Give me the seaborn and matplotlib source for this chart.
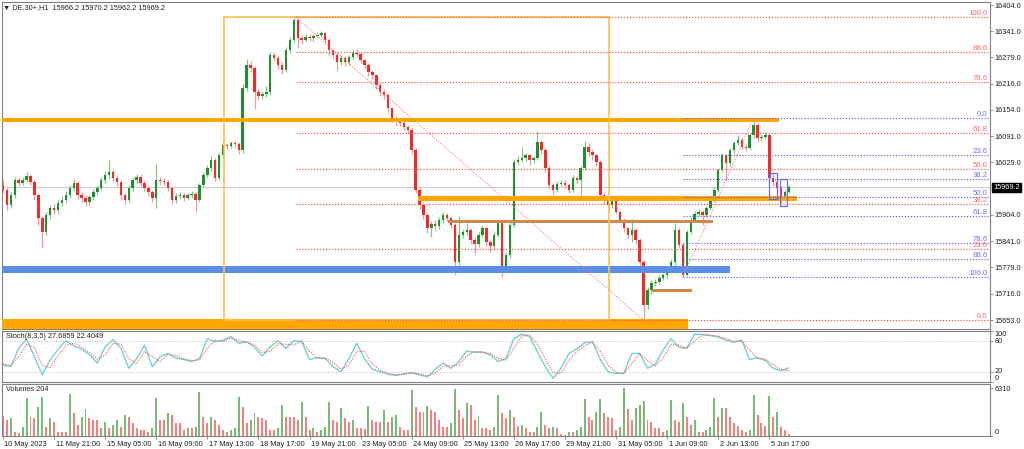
import matplotlib
matplotlib.use('Agg')
import numpy as np
import pandas as pd
import matplotlib.pyplot as plt
import matplotlib.transforms as mtransforms
from matplotlib.patches import Rectangle
import seaborn as sns

# ---- price data (H1 candles) ----
first_open = 15975
closes = [15963, 15927, 15951, 15987, 15980, 15987, 15996, 15982, 15951, 15896,
          15863, 15903, 15920, 15915, 15932, 15939, 15951, 15968, 15980, 15951,
          15944, 15934, 15946, 15958, 15968, 15987, 15999, 16006, 15992, 15982,
          15951, 15939, 15968, 15987, 15994, 15980, 15968, 15958, 15944, 15987,
          15985, 15982, 15968, 15939, 15949, 15951, 15944, 15951, 15954, 15939,
          15975, 15999, 16015, 16035, 15992, 16046, 16070, 16068, 16075, 16073,
          16058, 16206, 16261, 16254, 16197, 16187, 16192, 16197, 16285, 16278,
          16261, 16249, 16297, 16321, 16368, 16325, 16321, 16328, 16325, 16330,
          16333, 16337, 16321, 16297, 16285, 16268, 16278, 16268, 16280, 16290,
          16288, 16273, 16261, 16244, 16237, 16213, 16197, 16190, 16159, 16135,
          16125, 16123, 16113, 16106, 16058, 15963, 15927, 15903, 15872, 15882,
          15877, 15892, 15903, 15896, 15880, 15791, 15856, 15863, 15868, 15844,
          15834, 15856, 15872, 15839, 15829, 15856, 15887, 15777, 15808, 15880,
          16030, 16035, 16039, 16046, 16035, 16039, 16077, 16058, 16015, 15975,
          15963, 15977, 15980, 15975, 15963, 15992, 15987, 16015, 16066, 16054,
          16046, 16030, 15951, 15939, 15927, 15939, 15911, 15892, 15872, 15856,
          15868, 15844, 15791, 15689, 15725, 15741, 15744, 15753, 15760, 15772,
          15791, 15868, 15832, 15760, 15863, 15892, 15906, 15911, 15903, 15920,
          15939, 15963, 16011, 16046, 16027, 16058, 16075, 16082, 16066, 16063,
          16094, 16118, 16087, 16089, 16094, 15992, 15982, 15968, 15944, 15958,
          15969.2]
highs = [15990, 15968, 15958, 15995, 15993, 15995, 16005, 16000, 15988, 15955,
         15900, 15910, 15928, 15930, 15940, 15948, 15960, 15975, 15990, 15985,
         15958, 15950, 15952, 15965, 15975, 15995, 16008, 16035, 16012, 15998,
         15988, 15955, 15975, 15995, 16002, 16000, 15986, 15972, 15962, 16025,
         15995, 15992, 15988, 15972, 15955, 15958, 15956, 15957, 15960, 15958,
         15980, 16005, 16022, 16045, 16040, 16052, 16078, 16076, 16080, 16080,
         16078, 16215, 16275, 16270, 16258, 16205, 16200, 16210, 16292, 16292,
         16283, 16268, 16303, 16328, 16375, 16372, 16332, 16335, 16334, 16336,
         16340, 16342, 16340, 16325, 16300, 16290, 16285, 16282, 16286, 16298,
         16300, 16292, 16276, 16265, 16250, 16240, 16218, 16203, 16195, 16162,
         16140, 16132, 16128, 16118, 16110, 16062, 15970, 15932, 15908, 15890,
         15892, 15898, 15910, 15908, 15900, 15885, 15900, 15870, 15885, 15872,
         15850, 15862, 15880, 15876, 15845, 15862, 15892, 15890, 15815, 15886,
         16036, 16045, 16066, 16052, 16050, 16045, 16104, 16082, 16062, 16020,
         15980, 15984, 15986, 15986, 15980, 15998, 15996, 16020, 16080, 16075,
         16060, 16050, 16034, 15955, 15944, 15946, 15942, 15915, 15896, 15876,
         15895, 15872, 15848, 15795, 15732, 15748, 15752, 15760, 15766, 15778,
         15798, 15885, 15872, 15836, 15868, 15898, 15912, 15918, 15916, 15926,
         15945, 15970, 16016, 16052, 16050, 16064, 16080, 16095, 16086, 16072,
         16100, 16135, 16122, 16096, 16102, 16096, 16004, 15990, 15972, 15964,
         15975]
lows = [15955, 15915, 15920, 15945, 15972, 15975, 15982, 15975, 15940, 15880,
        15825, 15855, 15895, 15905, 15908, 15925, 15932, 15945, 15960, 15942,
        15935, 15925, 15928, 15940, 15950, 15962, 15980, 15990, 15985, 15972,
        15940, 15930, 15935, 15960, 15980, 15972, 15960, 15950, 15935, 15920,
        15975, 15974, 15960, 15930, 15932, 15942, 15936, 15940, 15945, 15910,
        15935, 15970, 15995, 16008, 15985, 15988, 16040, 16060, 16062, 16065,
        16050, 16052, 16200, 16245, 16155, 16178, 16180, 16185, 16190, 16270,
        16252, 16240, 16244, 16290, 16315, 16302, 16310, 16315, 16318, 16318,
        16325, 16328, 16312, 16285, 16275, 16248, 16262, 16258, 16262, 16275,
        16280, 16265, 16252, 16235, 16228, 16205, 16188, 16180, 16150, 16125,
        16116, 16115, 16105, 16098, 16050, 15955, 15918, 15895, 15860, 15850,
        15865, 15870, 15885, 15888, 15872, 15760, 15785, 15848, 15855, 15835,
        15810, 15828, 15850, 15830, 15815, 15822, 15850, 15755, 15770, 15800,
        15875, 16022, 16030, 16032, 16022, 16028, 16035, 16050, 16005, 15965,
        15952, 15958, 15972, 15968, 15955, 15958, 15978, 15950, 16010, 16045,
        16035, 16020, 15945, 15930, 15912, 15920, 15905, 15885, 15862, 15848,
        15840, 15835, 15780, 15653, 15680, 15715, 15735, 15738, 15748, 15754,
        15765, 15785, 15825, 15756, 15758, 15858, 15886, 15900, 15880, 15898,
        15915, 15934, 15958, 16005, 15985, 16020, 16052, 16070, 16060, 16055,
        16058, 16088, 16078, 16080, 16084, 15985, 15972, 15960, 15932, 15936,
        15955]
volumes = [2630, 2100, 2320, 570, 350, 1230, 4950, 2540, 2320, 3850,
           5120, 1230, 2320, 1880, 570, 570, 570, 5520, 2980, 1450,
           2540, 3500, 2320, 2100, 2100, 1010, 1880, 1010, 1450, 2100,
           1230, 2760, 2540, 1660, 1010, 790, 790, 570, 1010, 5040,
           2100, 2100, 2980, 2760, 1660, 1660, 790, 1010, 1010, 1230,
           5820, 2540, 1660, 2540, 2100, 1450, 790, 570, 790, 1010,
           5080, 3850, 1660, 2100, 3070, 2540, 2320, 2100, 790, 790,
           1010, 4070, 2540, 2540, 2540, 2100, 4510, 2540, 790, 1010,
           570, 790, 1230, 4510, 2100, 1880, 3640, 2320, 1880, 2100,
           1010, 1010, 880, 3940, 2100, 1880, 1880, 3420, 1880, 2540,
           2760, 1230, 790, 790, 6040, 3770, 3200, 3200, 3940, 3420,
           3200, 2100, 1230, 1140, 1660, 6200, 3420, 2320, 4290, 4070,
           2100, 2630, 1010, 1010, 790, 1230, 5390, 2980, 2320, 3420,
           2540, 1310, 1450, 1010, 570, 570, 1230, 3200, 1450, 1010,
           1140, 1010, 260, 130, 570, 570, 790, 1140, 4820, 2540,
           2100, 3200, 4820, 2980, 2540, 2320, 790, 1230, 6310, 3500,
           2100, 3640, 4070, 4600, 2100, 1880, 1010, 1010, 570, 790,
           4730, 2100, 1880, 4380, 2540, 1450, 2100, 570, 570, 790,
           1230, 4950, 2540, 3640, 3640, 2540, 1660, 1310, 790, 570,
           790, 5390, 2760, 1660, 1310, 5260, 2540, 3200, 1230, 790,
           204]

# Stoch(8,3,5), one reading every second bar
stoch_k = [33, 31, 66, 84, 50, 14, 43, 64, 81, 71,
           64, 54, 37, 69, 83, 66, 27, 46, 72, 30,
           50, 56, 47, 44, 40, 46, 85, 79, 82, 89,
           76, 79, 68, 51, 69, 81, 66, 81, 79, 44,
           48, 46, 30, 20, 46, 76, 46, 25, 20, 15,
           13, 16, 19, 14, 10, 25, 37, 27, 40, 61,
           58, 59, 53, 40, 46, 85, 94, 89, 59, 30,
           7, 27, 56, 65, 77, 79, 44, 20, 17, 17,
           56, 56, 27, 35, 63, 85, 68, 66, 94, 93,
           91, 88, 82, 78, 82, 44, 48, 42, 27, 22,
           27.6859]
stoch_d = [35, 32, 50, 74, 68, 32, 28, 52, 72, 76,
           68, 58, 45, 53, 76, 74, 45, 36, 60, 50,
           40, 54, 52, 46, 42, 43, 66, 82, 80, 86,
           82, 78, 73, 58, 60, 75, 74, 73, 80, 60,
           47, 47, 38, 25, 33, 60, 60, 35, 23, 17,
           14, 15, 17, 16, 12, 18, 31, 32, 33, 51,
           60, 58, 56, 46, 43, 66, 90, 92, 74, 45,
           18, 17, 42, 60, 71, 78, 60, 32, 19, 17,
           36, 56, 42, 31, 48, 74, 72, 67, 80, 93,
           92, 90, 85, 80, 80, 62, 46, 45, 34, 25,
           22.4049]

time_labels = ['10 May 2023', '11 May 21:00', '15 May 05:00', '16 May 09:00',
               '17 May 13:00', '18 May 17:00', '19 May 21:00', '23 May 05:00',
               '24 May 09:00', '25 May 13:00', '26 May 17:00', '29 May 21:00',
               '31 May 05:00', '1 Jun 09:00', '2 Jun 13:00', '5 Jun 17:00']
bars_per_label = 13
price_ticks = [16404, 16341, 16279, 16216, 16154, 16091, 16029,
               15904, 15841, 15779, 15716, 15653]

fib_levels = [0.0, 23.6, 38.2, 50.0, 61.8, 78.6, 88.6, 100.0]
red_fib_low, red_fib_high = 15653, 16375      # 0 at low, 100 at high
blue_fib_high, blue_fib_low = 16135, 15756    # 0 at high, 100 at low

header = '\u25bc DE.30+,H1  15966.2 15970.2 15962.2 15969.2'
last_price = 15969.2

# ---- figure ----
sns.set_theme(style='white')
plt.rcParams['font.family'] = ['Liberation Sans', 'DejaVu Sans']
W, H = 1024, 449
fig = plt.figure(figsize=(W / 100, H / 100), dpi=100)
fig.patch.set_facecolor('white')

left, right = 2, 990
ax = fig.add_axes([left / W, 1 - 329 / H, (right - left) / W, 327 / H])
ax_st = fig.add_axes([left / W, 1 - 382 / H, (right - left) / W, 51 / H])
ax_v = fig.add_axes([left / W, 1 - 436 / H, (right - left) / W, 52 / H])

n = len(closes)
x = np.arange(n)
opens = [first_open] + closes[:-1]
df = pd.DataFrame({'x': x, 'open': opens, 'high': highs, 'low': lows,
                   'close': closes, 'volume': volumes})
up = df['close'] >= df['open']

xlim = (-0.25, 251.15)
txt_col = '#222222'
fs = 5.3

for a in (ax, ax_st, ax_v):
    a.set_facecolor('white')
    a.set_xlim(*xlim)
    for s in a.spines.values():
        s.set_color('#808080')
        s.set_linewidth(0.8)
    a.yaxis.tick_right()
    a.tick_params(axis='y', length=2, width=0.6, pad=1.5, labelsize=fs,
                  colors='#808080', labelcolor=txt_col)
    a.grid(False)

# ---- main panel ----
ax.set_ylim(15631.7, 16411.2)
ax.axhline(last_price, color='#cccccc', lw=0.8, zorder=1)

green, red = '#1f8f2f', '#f42a2a'
green_w, red_w = '#86c686', '#f49a9a'
ax.vlines(df['x'], df['low'], df['high'],
          colors=np.where(up, green_w, red_w), lw=0.9, zorder=2)
body_lo = np.minimum(df['open'], df['close'])
body_h = np.maximum(np.abs(df['close'] - df['open']), 1.5)
ax.bar(df['x'], body_h, bottom=body_lo, width=0.62,
       color=np.where(up, green, red), linewidth=0, zorder=2.5)

# horizontal zones
zones = [(-0.3, 197.5, 16125, 16135, '#ffa600'),
         (105.6, 202.0, 15937, 15948, '#ffa600'),
         (113.2, 180.7, 15885, 15891, '#cd8a4c'),
         (-0.3, 185.0, 15765, 15782, '#5b8fe6'),
         (165.1, 175.3, 15720, 15727, '#cd8a4c'),
         (-0.3, 174.3, 15630, 15655, '#ffa600')]
for x0, x1, y0, y1, c in zones:
    ax.add_patch(Rectangle((x0, y0), x1 - x0, y1 - y0, facecolor=c,
                           edgecolor='none', zorder=3))

# range rectangle
ax.add_patch(Rectangle((56.2, red_fib_low), 154.2 - 56.2, red_fib_high - red_fib_low,
                       facecolor='none', edgecolor='#ffc04a', lw=1.2, zorder=3))

# small boxes near the last bars
ax.add_patch(Rectangle((194.9, 15941), 2.0, 16004 - 15941, facecolor='none',
                       edgecolor='#6b6bef', lw=0.9, zorder=4))
ax.add_patch(Rectangle((197.7, 15926), 1.8, 15989 - 15926, facecolor='none',
                       edgecolor='#6b6bef', lw=0.9, zorder=4))

# fibonacci retracements
dot = (0, (1, 1.5))
fib_red_col, fib_blue_col = '#ff4c4c', '#5c5cff'
label_x = 250.6
red_prices = [red_fib_low + lv / 100 * (red_fib_high - red_fib_low) for lv in fib_levels]
blue_prices = [blue_fib_high - lv / 100 * (blue_fib_high - blue_fib_low) for lv in fib_levels]
ax.hlines(red_prices, 74.5, xlim[1], colors=fib_red_col, lw=0.85, linestyles=[dot], zorder=3.5)
ax.hlines(blue_prices, 173, xlim[1], colors=fib_blue_col, lw=0.85, linestyles=[dot], zorder=3.5)
ax.plot([74.5, 163], [red_fib_high, red_fib_low], color='#ff7a7a', lw=0.8, ls=dot, zorder=3.5)
ax.plot([173, 191], [blue_fib_low, blue_fib_high], color='#ff7a7a', lw=0.8, ls=dot, zorder=3.5)
for lv, p in zip(fib_levels, red_prices):
    ax.text(label_x, p, f'{lv:.1f}', color='#ff6a6a', fontsize=5.6,
            ha='right', va='bottom', zorder=5)
for lv, p in zip(fib_levels, blue_prices):
    ax.text(label_x, p, f'{lv:.1f}', color='#7070ff', fontsize=5.6,
            ha='right', va='bottom', zorder=5)

ax.set_xticks([])
ax.set_yticks(price_ticks)
ax.set_yticklabels([f'{p:.1f}' for p in price_ticks])
ax.annotate(f'{last_price:.1f}', xy=(1.0, last_price),
            xycoords=('axes fraction', 'data'), xytext=(2.5, 0),
            textcoords='offset points', ha='left', va='center', fontsize=fs,
            color='white', bbox=dict(boxstyle='square,pad=0.15', fc='black', ec='black'),
            annotation_clip=False, zorder=6)

fig.text(3 / W, 1 - 8 / H, header, fontsize=fs, color=txt_col, va='center', ha='left')

# ---- stochastic ----
xs = np.arange(0, n, 2)
st = pd.DataFrame({'x': xs, 'k': stoch_k, 'd': stoch_d})
ax_st.set_ylim(0, 100)
for lvl in (20, 80):
    ax_st.axhline(lvl, color='#c4c4c4', lw=0.7, ls=(0, (1, 1.5)), zorder=1)
sns.lineplot(data=st, x='x', y='k', ax=ax_st, color='#74d0d4', lw=1.0, zorder=3)
sns.lineplot(data=st, x='x', y='d', ax=ax_st, color='#ff5050', lw=0.8,
             linestyle=(0, (1, 1.2)), zorder=4)
ax_st.set_xlabel('')
ax_st.set_ylabel('')
ax_st.set_xticks([])
ax_st.set_yticks([0, 20, 80, 100])
ax_st.set_yticklabels(['0', '20', '80', '100'])
for t, va in zip(ax_st.get_yticklabels(), ['bottom', 'center', 'center', 'top']):
    t.set_va(va)
ax_st.text(0.004, 0.9, f'Stoch(8,3,5) {stoch_k[-1]:.4f} {stoch_d[-1]:.4f}',
           transform=ax_st.transAxes, fontsize=fs, color=txt_col, va='center')

# ---- volumes ----
vol_up = df['volume'].diff().fillna(0) > 0
ax_v.bar(df['x'], df['volume'], width=0.5,
         color=np.where(vol_up, '#3d9e3d', '#f04a4a'), linewidth=0, alpha=0.7)
ax_v.set_ylim(0, 6840)
ax_v.set_yticks([0, max(volumes)])
ax_v.set_yticklabels(['0', f'{max(volumes)}'])
ax_v.get_yticklabels()[0].set_va('bottom')
ax_v.text(0.004, 0.9, f'Volumes {volumes[-1]}', transform=ax_v.transAxes,
          fontsize=fs, color=txt_col, va='center')

tick_pos = np.arange(len(time_labels)) * bars_per_label
ax_v.set_xticks(tick_pos)
ax_v.set_xticklabels(time_labels, ha='left')
ax_v.tick_params(axis='x', length=2.5, width=0.6, pad=1.0, labelsize=fs,
                 colors='#808080', labelcolor=txt_col, bottom=True)
offset = mtransforms.ScaledTranslation(1.5 / 100, 0, fig.dpi_scale_trans)
for t in ax_v.get_xticklabels():
    t.set_transform(t.get_transform() + offset)

fig.savefig('out.png', dpi=100)
